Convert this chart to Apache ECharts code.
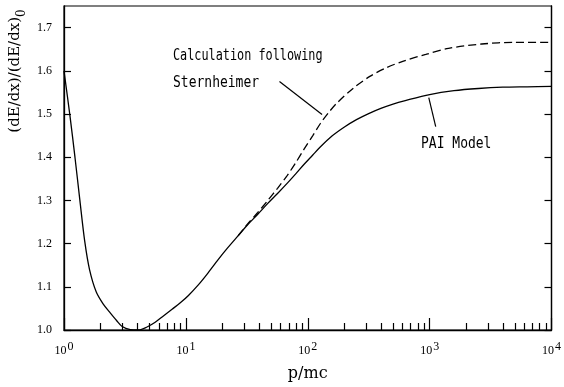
<!DOCTYPE html>
<html>
<head>
<meta charset="utf-8">
<script src="https://cdn.jsdelivr.net/npm/echarts@6/dist/echarts.min.js"></script>
<style>html,body{margin:0;padding:0;background:#fff;}#c{width:564px;height:387px;}</style>
</head>
<body>
<div id="c"></div>
<script>
// PAI model (solid)
var paiP = [1, 1.12, 1.23, 1.35, 1.48, 1.62, 1.84, 2.1, 2.36, 2.7, 3.0, 3.5, 4.1, 4.8, 5.6, 6.5, 7.7, 9, 10.5, 12.7, 15, 18.4, 22, 26.8, 32, 38.9, 47, 56.5, 68, 80, 93, 110, 126, 158, 200, 251, 316, 398, 501, 631, 1000, 1585, 2512, 3981, 6310, 10000];
var paiY = [1.600, 1.495, 1.400, 1.300, 1.205, 1.140, 1.088, 1.060, 1.042, 1.022, 1.008, 1.001, 1.000, 1.007, 1.018, 1.032, 1.048, 1.063, 1.080, 1.105, 1.130, 1.163, 1.190, 1.218, 1.243, 1.268, 1.293, 1.316, 1.340, 1.362, 1.383, 1.405, 1.423, 1.449, 1.470, 1.487, 1.501, 1.513, 1.523, 1.531, 1.545, 1.554, 1.559, 1.562, 1.563, 1.564];
// Calculation following Sternheimer (dashed)
var sternP = [26.8, 32, 38.9, 47, 56.5, 68, 80, 93, 110, 127, 150, 173, 237, 323, 441, 602, 930, 1430, 2680, 5000, 10000];
var sternY = [1.218, 1.245, 1.272, 1.300, 1.328, 1.358, 1.388, 1.418, 1.450, 1.478, 1.505, 1.525, 1.560, 1.587, 1.607, 1.622, 1.638, 1.652, 1.662, 1.666, 1.666];
// axis ticks
var xMajor = [1, 10, 100, 1000, 10000];
var xMinor = [2,3,4,5,6,7,8,9,20,30,40,50,60,70,80,90,200,300,400,500,600,700,800,900,2000,3000,4000,5000,6000,7000,8000,9000];
var yTicks = [1.0, 1.1, 1.2, 1.3, 1.4, 1.5, 1.6, 1.7];
// annotation leader lines (data space)
var sternLeader = [[58.6, 1.575], [131, 1.499]];
var paiLeader = [[984, 1.538], [1122, 1.471]];

function zip(a, b) { return a.map(function (v, i) { return [v, b[i]]; }); }

var chart = echarts.init(document.getElementById('c'), null, {renderer: 'canvas'});
var serif = 'Liberation Serif';
var mono = '"DejaVu Sans Mono"';
chart.setOption({
  animation: false,
  backgroundColor: '#fff',
  grid: {left: 64, right: 7, top: 6, bottom: 56, show: true, borderColor: '#000', borderWidth: 1.2, backgroundColor: 'transparent'},
  xAxis: [{
    type: 'log', logBase: 10, min: 1, max: 10000, position: 'bottom',
    axisLine: {show: true, lineStyle: {color: '#000', width: 1.3}},
    axisTick: {show: true, inside: true, length: 12, customValues: xMajor, lineStyle: {color: '#000', width: 1.2}},
    minorTick: {show: false},
    splitLine: {show: false},
    axisLabel: {
      customValues: xMajor, margin: 11, color: '#000',
      formatter: function (v) { return '{b|10}{s|' + Math.round(Math.log10(v)) + '}'; },
      rich: {
        b: {fontFamily: serif, fontSize: 12, color: '#000', lineHeight: 16, verticalAlign: 'bottom'},
        s: {fontFamily: serif, fontSize: 12, color: '#000', lineHeight: 16, verticalAlign: 'top', padding: [0, 0, 0, 1]}
      }
    },
    name: 'p/mc', nameLocation: 'middle', nameGap: 36,
    nameTextStyle: {fontFamily: 'DejaVu Serif', fontSize: 16, color: '#000'}
  }, {
    type: 'log', logBase: 10, min: 1, max: 10000, position: 'bottom',
    axisLine: {show: false},
    axisTick: {show: true, inside: true, length: 7, customValues: xMinor, lineStyle: {color: '#000', width: 1.2}},
    axisLabel: {show: false},
    splitLine: {show: false}
  }],
  yAxis: [{
    type: 'value', min: 1.0, max: 1.75, position: 'left',
    axisLine: {show: true, lineStyle: {color: '#000', width: 1.3}},
    axisTick: {show: true, inside: true, length: 7, customValues: yTicks, lineStyle: {color: '#000', width: 1.2}},
    splitLine: {show: false},
    axisLabel: {customValues: yTicks, margin: 12, color: '#000', fontFamily: serif, fontSize: 12,
      formatter: function (v) { return v.toFixed(1); }}
  }, {
    type: 'value', min: 1.0, max: 1.75, position: 'right',
    axisLine: {show: true, lineStyle: {color: '#000', width: 1.3}},
    axisTick: {show: true, inside: true, length: 7, customValues: yTicks, lineStyle: {color: '#000', width: 1.2}},
    splitLine: {show: false},
    axisLabel: {show: false}
  }],
  series: [{
    name: 'PAI Model', type: 'line', xAxisIndex: 0, yAxisIndex: 0,
    data: zip(paiP, paiY), showSymbol: false, symbol: 'none', smooth: 0.3,
    lineStyle: {color: '#000', width: 1.3},
    markLine: {
      silent: true, symbol: ['none', 'none'], label: {show: false},
      lineStyle: {color: '#000', width: 1.2, type: 'solid'},
      data: [
        [{coord: sternLeader[0]}, {coord: sternLeader[1]}],
        [{coord: paiLeader[0]}, {coord: paiLeader[1]}]
      ]
    }
  }, {
    name: 'Calculation following Sternheimer', type: 'line', xAxisIndex: 0, yAxisIndex: 0,
    data: zip(sternP, sternY), showSymbol: false, symbol: 'none', smooth: 0.3,
    lineStyle: {color: '#000', width: 1.3, type: [8, 4]}
  }],
  graphic: [
    {type: 'text', x: 173, y: 56, scaleX: 0.91, scaleY: 1.15,
      style: {text: 'Calculation following', font: '13px ' + mono, fill: '#000', verticalAlign: 'middle'}},
    {type: 'text', x: 173, y: 83, scaleX: 1.0, scaleY: 1.15,
      style: {text: 'Sternheimer', font: '13px ' + mono, fill: '#000', verticalAlign: 'middle'}},
    {type: 'text', x: 421, y: 144, scaleX: 1.0, scaleY: 1.15,
      style: {text: 'PAI Model', font: '13px ' + mono, fill: '#000', verticalAlign: 'middle'}},
    {type: 'text', x: 18, y: 71, rotation: Math.PI / 2,
      style: {text: '{m|(dE/dx)/(dE/dx)}{sub|0}', align: 'center', verticalAlign: 'middle',
        rich: {m: {fontFamily: 'DejaVu Serif', fontSize: 15, fill: '#000', lineHeight: 20, verticalAlign: 'top'},
               sub: {fontFamily: 'DejaVu Serif', fontSize: 12, fill: '#000', lineHeight: 20, verticalAlign: 'bottom'}}}}
  ]
});
</script>
</body>
</html>
